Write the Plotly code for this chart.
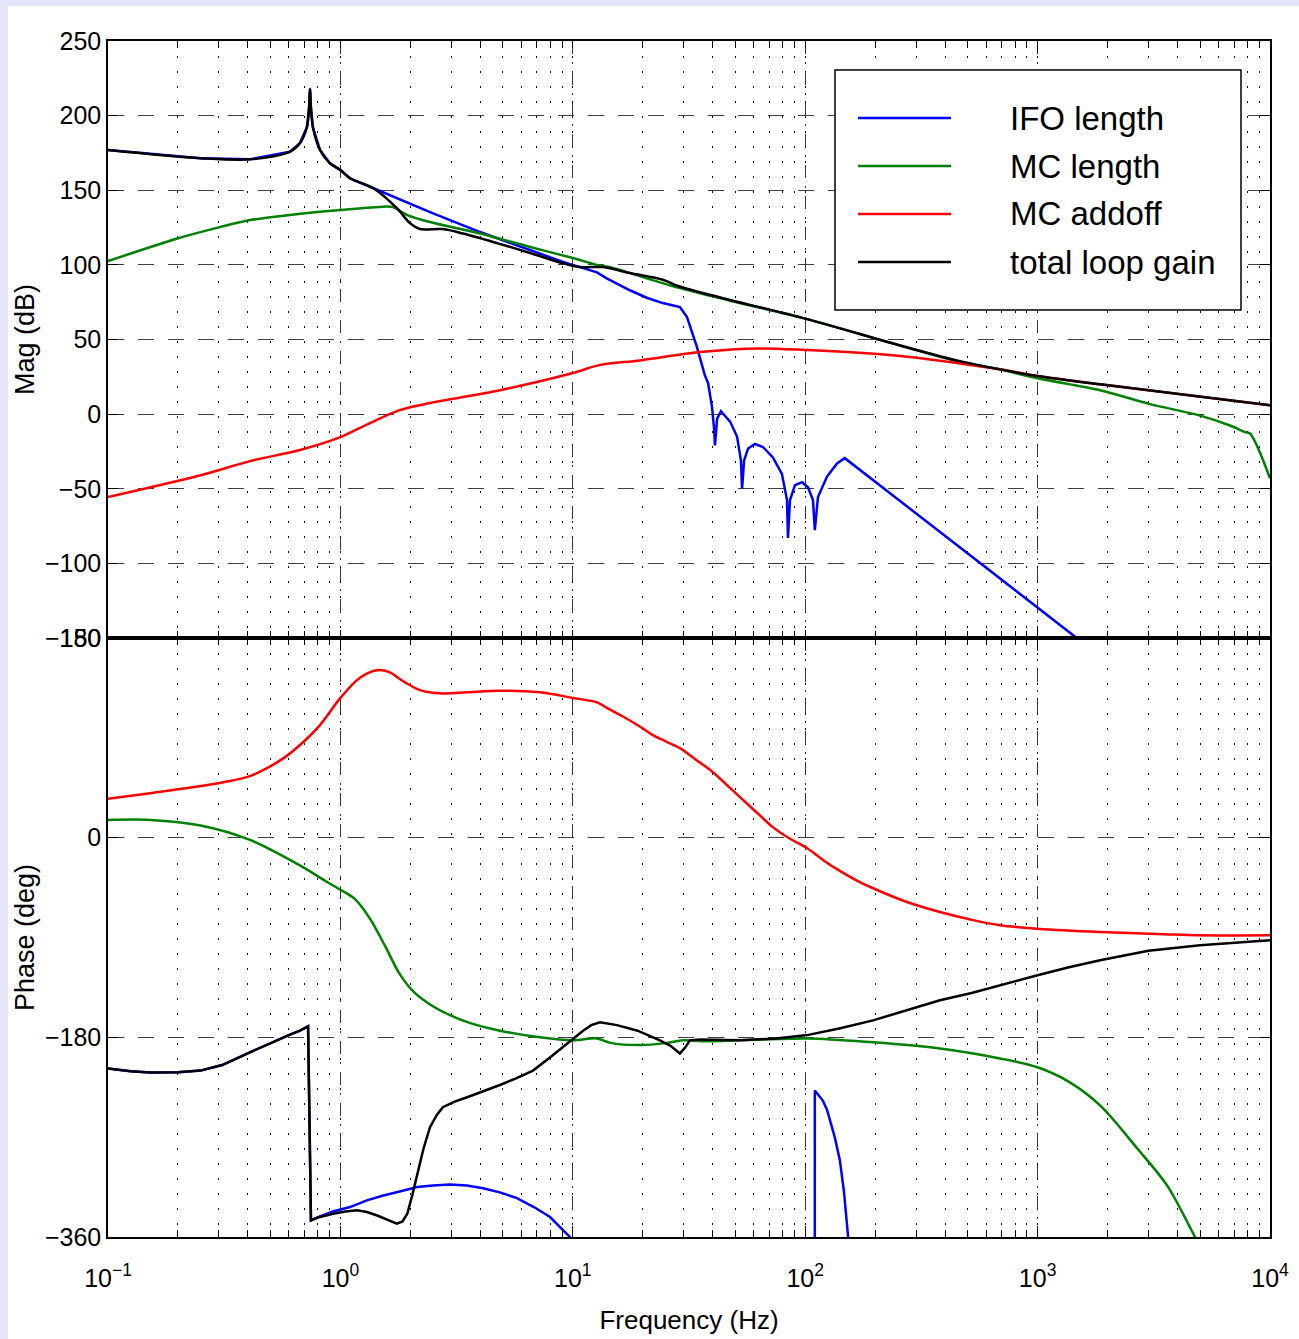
import plotly.graph_objects as go
from plotly.subplots import make_subplots

# ---------------- data ----------------
names = ["IFO length", "MC length", "MC addoff", "total loop gain"]
colors = ["#0000FF", "#008000", "#FF0000", "#000000"]

# Magnitude (dB) vs frequency (Hz)
ifo_mag_f = [0.1, 0.25, 0.408, 0.607, 0.670, 0.718, 0.733, 0.740, 0.747, 0.762, 0.817, 0.902, 1.0, 1.10, 1.38,
             1.8, 2.43, 3.99, 6.55, 9.08, 12.7, 14.0, 17.6, 20.8, 24.4, 28.9, 31.0, 34.2, 37.0, 38.2, 39.7, 40.5,
             40.9, 41.8, 43.4, 47.5, 50.9, 52.9, 53.5, 54.6, 56.8, 60.8, 65.8, 72.6, 79.4, 83.5, 84.3, 86.0, 90.4,
             96.9, 102.8, 108, 110, 113.5, 124, 137, 148, 1449, 2000]
ifo_mag_db = [177, 171.5, 170.7, 175.8, 181.6, 192.4, 205, 218, 205, 192, 177, 168, 163.5, 158, 151.5,
              144, 135.4, 122, 110, 102, 95, 91, 83, 78, 74.4, 71.7, 65, 45, 26, 20.8, 5, -8.7,
              -21, -3, 2, -5, -15, -31, -50, -31, -23, -20, -22, -29, -40, -57.6, -83, -57.6, -47.6,
              -45.6, -49, -57.6, -77.7, -55.6, -42, -33, -29.5, -149.5, -166]

mcl_mag_f = [0.1, 0.202, 0.303, 0.408, 0.607, 1.0, 1.53, 1.68, 1.94, 2.43, 3.99, 6.55, 10, 12.7, 14.9, 20.8,
             28.9, 47.5, 100, 256, 463, 689, 1000, 1857, 3048, 5000, 6730, 7800, 8200, 10000]
mcl_mag_db = [102.5, 118, 125.3, 130, 133.4, 136.7, 139, 138.7, 133.4, 128.7, 121, 112, 104.6, 100, 98, 91,
              84.4, 76, 64, 46, 35, 30, 24, 16, 6.7, -1, -7.6, -12, -13, -43]

mca_mag_f = [0.1, 0.25, 0.408, 0.670, 1.0, 1.34, 1.80, 2.43, 4.86, 10, 13.1, 19.5, 35.3, 63.9, 100, 256,
             689, 1000, 1857, 10000]
mca_mag_db = [-55.6, -41, -31.5, -24, -15.4, -6, 2.7, 7.4, 16, 27.5, 33, 36, 41.6, 44, 43, 39,
              30, 25.5, 20, 6]

tot_mag_f = [0.1, 0.25, 0.408, 0.607, 0.670, 0.718, 0.733, 0.740, 0.747, 0.762, 0.817, 0.902, 1.0, 1.10,
             1.38, 1.75, 1.99, 2.2, 2.76, 3.37, 4.72, 6.55, 9.08, 10.7, 13.5, 17.6, 24.4, 28.1, 31.0, 47.5,
             100, 256, 463, 1000, 1857, 10000]
tot_mag_db = [177, 171.5, 170.7, 175.8, 181.6, 192.4, 205, 218, 205, 192, 177, 168, 163.5, 158,
              151.5, 138, 128, 124, 124, 121, 114.6, 108, 101, 98.5, 98.5, 94.5, 90, 86, 84, 76.5,
              64, 46, 35.5, 25.5, 20, 6]

# Phase (deg) vs frequency (Hz)
ifo_ph_f = [0.1, 0.125, 0.152, 0.2, 0.25, 0.31, 0.408, 0.5, 0.6, 0.670, 0.726, 0.747, 0.8, 0.929, 1.10, 1.3,
            1.53, 1.8, 2.14, 2.5, 2.96, 3.5, 4.11, 4.9, 5.75, 6.8, 7.98, 9.72, 11, 30, 109.9,
            110, 114, 119, 124, 128, 134, 141, 147, 153, 160]
ifo_ph_deg = [-208, -210.5, -211.6, -211.5, -210, -205, -193.5, -185, -178, -174, -170, -345, -342, -337, -333,
              -327, -322.6, -319, -315, -313.5, -312.7, -313.5, -316, -320, -325, -333, -342, -360, -372, -480,
              -600, -228, -232, -237, -245, -255, -270, -291, -320, -360, -400]

mcl_ph_f = [0.1, 0.152, 0.25, 0.408, 0.670, 0.817, 0.902, 1.0, 1.15, 1.34, 1.56, 1.80, 2.09, 2.5, 2.96, 3.6,
            4.86, 7.22, 10, 12.7, 14.5, 19.5, 25.4, 29.8, 37.8, 102, 196, 380, 689, 1000, 1377, 1857, 2680,
            3606, 4757, 6000]
mcl_ph_deg = [16, 16, 11, -2, -25, -36, -41.5, -47, -55, -73, -98, -123, -140, -152, -160, -167,
              -174, -180, -182.7, -181, -185, -187, -185, -182.7, -183.6, -181, -184.5, -190, -199, -207, -220.6,
              -241.4, -280, -313.5, -360, -400]

mca_ph_f = [0.1, 0.152, 0.25, 0.335, 0.408, 0.483, 0.578, 0.670, 0.817, 1.0, 1.21, 1.44, 1.634, 1.80, 2.20,
            2.76, 3.5, 4.86, 7.22, 10, 12.7, 14.0, 16.5, 19.5, 22.1, 25, 28.9, 34, 40.1, 46, 52.4, 62, 72.6, 86,
            102, 120, 141, 166, 196, 274, 380, 520, 689, 1000, 1857, 3500, 5000, 10000]
mca_ph_deg = [35, 40, 46.5, 51, 55.5, 62.7, 72.6, 83.5, 101.5, 126, 144, 151, 149, 143, 133,
              130, 131, 132.5, 131, 126, 122, 117, 109, 100, 92.5, 87, 80.7, 70, 59, 47.5, 36.5, 22.5, 9.5, -1,
              -9.5, -20.5, -30, -38.5, -45.6, -58, -67, -74, -79, -82, -85, -87, -88, -88]

tot_ph_f = [0.1, 0.125, 0.152, 0.2, 0.25, 0.31, 0.408, 0.5, 0.6, 0.670, 0.726, 0.747, 0.8, 0.929, 1.05, 1.18,
            1.3, 1.44, 1.6, 1.75, 1.85, 1.94, 2.04, 2.14, 2.28, 2.43, 2.6, 2.76, 3.1, 3.51, 4.1, 4.86, 5.7,
            6.74, 8, 9.44, 11.07, 12, 13.1, 15.5, 19, 23.7, 26.5, 28.9, 30.5, 31.9, 35.3, 52.4, 75, 102, 140,
            196, 270, 380, 520, 689, 1000, 1350, 1857, 3000, 5000, 10000]
tot_ph_deg = [-208, -210.5, -211.6, -211.5, -210, -205, -193.5, -185, -178, -174, -170, -345, -342.5, -339, -337,
              -336, -337.5, -340.6, -345, -348, -346, -339, -322, -303, -280, -261, -250, -243, -238, -234, -229,
              -223, -217, -210, -198, -185.6, -174, -169, -166.5, -169, -174, -182.7, -188, -194.5, -189, -182.7,
              -182, -182.7, -181, -178, -172, -164.7, -156, -146.6, -140, -133, -124, -117, -110.5, -102, -97,
              -92.5]

x_tickvals = [0.1, 1, 10, 100, 1000, 10000]
x_ticktext = ["10<sup>\u22121</sup>", "10<sup>0</sup>", "10<sup>1</sup>", "10<sup>2</sup>",
              "10<sup>3</sup>", "10<sup>4</sup>"]
mag_ticks = [-150, -100, -50, 0, 50, 100, 150, 200, 250]
ph_ticks = [-360, -180, 0, 180]

mag_series = [(ifo_mag_f, ifo_mag_db), (mcl_mag_f, mcl_mag_db), (mca_mag_f, mca_mag_db), (tot_mag_f, tot_mag_db)]
ph_series = [(ifo_ph_f, ifo_ph_deg), (mcl_ph_f, mcl_ph_deg), (mca_ph_f, mca_ph_deg), (tot_ph_f, tot_ph_deg)]
mag_shape = ["linear", "spline", "spline", "spline"]
ph_shape = ["linear", "spline", "spline", "linear"]

# ---------------- figure ----------------
W, H = 1299, 1339
ML, MR, MT, MB = 108, 29, 41, 102
FONT = "Liberation Sans, Arial, Helvetica, sans-serif"
LW = 2.5

fig = make_subplots(rows=2, cols=1, shared_xaxes=False, vertical_spacing=0)

for i in range(4):
    f, v = mag_series[i]
    fig.add_trace(go.Scatter(x=f, y=v, mode="lines", name=names[i], showlegend=False,
                             line=dict(color=colors[i], width=LW, shape=mag_shape[i], smoothing=0.9)),
                  row=1, col=1)
    f, v = ph_series[i]
    fig.add_trace(go.Scatter(x=f, y=v, mode="lines", name=names[i], showlegend=False,
                             line=dict(color=colors[i], width=LW, shape=ph_shape[i], smoothing=0.9)),
                  row=2, col=1)

plot_h = H - MT - MB
split = (H - MB - 638) / plot_h

xcommon = dict(type="log", range=[-1, 4], tickmode="array", tickvals=x_tickvals, automargin=False,
               showline=True, linecolor="black", linewidth=1.5, mirror="ticks",
               ticks="inside", ticklen=11, tickwidth=1.2, tickcolor="black",
               showgrid=True, gridcolor="#333333", gridwidth=1, griddash="13px,8px,2px,8px",
               minor=dict(dtick="D1", ticks="inside", ticklen=7, tickwidth=1, tickcolor="black",
                          showgrid=True, gridcolor="#000000", gridwidth=1, griddash="1.5px,13.5px"),
               zeroline=False)

fig.update_xaxes(**xcommon)
fig.update_xaxes(row=1, col=1, ticktext=["" for _ in x_tickvals], showticklabels=False)
fig.update_xaxes(row=2, col=1, ticktext=x_ticktext, ticklabelstandoff=18,
                 tickfont=dict(family=FONT, size=25, color="black"),
                 title=dict(text="Frequency (Hz)", font=dict(family=FONT, size=26, color="black"), standoff=20))

ycommon = dict(showline=True, linecolor="black", linewidth=1.5, mirror="ticks", automargin=False,
               ticks="inside", ticklen=10, tickwidth=1.2, tickcolor="black",
               showgrid=True, gridcolor="#404040", gridwidth=1, griddash="16px,14px",
               zeroline=False, tickfont=dict(family=FONT, size=25, color="black"))
fig.update_yaxes(**ycommon)
fig.update_yaxes(row=1, col=1, range=[-150, 250], tickmode="array", tickvals=mag_ticks,
                 domain=[split, 1],
                 title=dict(text="Mag (dB)", font=dict(family=FONT, size=27, color="black"), standoff=2))
fig.update_yaxes(row=2, col=1, range=[-360, 180], tickmode="array", tickvals=ph_ticks,
                 domain=[0, split],
                 title=dict(text="Phase (deg)", font=dict(family=FONT, size=27, color="black"), standoff=2))


def px_x(p):
    return (p - ML) / (W - ML - MR)


def px_y(p):
    return (H - MB - p) / plot_h


shapes = []
# lavender frame strips (left and top)
shapes.append(dict(type="rect", xref="paper", yref="paper", x0=px_x(0), x1=px_x(8), y0=px_y(H), y1=px_y(0),
                   fillcolor="#E6E6FA", line=dict(width=0), layer="below"))
shapes.append(dict(type="rect", xref="paper", yref="paper", x0=px_x(0), x1=px_x(W), y0=px_y(6), y1=px_y(0),
                   fillcolor="#E6E6FA", line=dict(width=0), layer="below"))
# legend box
shapes.append(dict(type="rect", xref="paper", yref="paper", x0=px_x(835), x1=px_x(1241), y0=px_y(310),
                   y1=px_y(70), fillcolor="white", line=dict(color="black", width=1.5), layer="above"))
annotations = []
leg_y = [118, 166, 214, 262]
for i in range(4):
    shapes.append(dict(type="line", xref="paper", yref="paper", x0=px_x(858), x1=px_x(951),
                       y0=px_y(leg_y[i]), y1=px_y(leg_y[i]), line=dict(color=colors[i], width=2.5),
                       layer="above"))
    annotations.append(dict(xref="paper", yref="paper", x=px_x(1008), y=px_y(leg_y[i]), text=names[i],
                            showarrow=False, xanchor="left", yanchor="middle",
                            font=dict(family=FONT, size=33, color="black")))

fig.update_layout(width=W, height=H, autosize=False,
                  margin=dict(l=ML, r=MR, t=MT, b=MB),
                  paper_bgcolor="white", plot_bgcolor="white",
                  shapes=shapes, annotations=annotations, showlegend=False)

fig.write_html("out.html")
